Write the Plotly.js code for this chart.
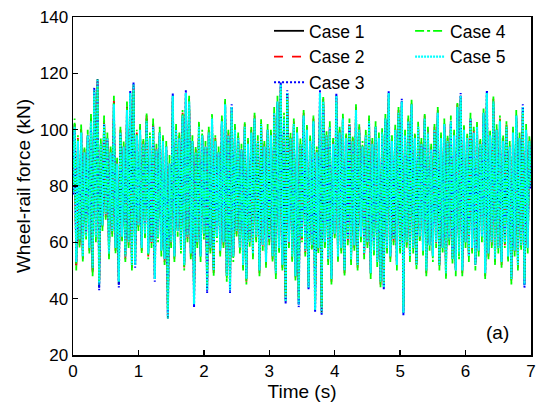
<!DOCTYPE html>
<html>
<head>
<meta charset="utf-8">
<script src="https://cdn.plot.ly/plotly-3.0.1.min.js"></script>
<style>html,body{margin:0;padding:0;background:#fff;}#chart{width:540px;height:405px;}</style>
</head>
<body>
<div id="chart"></div>
<script>
// sampling: t0 = 0 s, dt = 0.025 s, 281 samples (0 ... 7 s)
var tStart = 0;
var tStep = 0.025;
var seriesNames = ["Case 1", "Case 2", "Case 3", "Case 4", "Case 5"];

var case1 = [
78,102,52,96,60,100,55,92,63,98, 58,104,50,114,62,118,44,95,66,103,
70,97,56,92,64,110,58,88,45,99, 62,94,55,108,60,113,52,116,52,98,
66,100,58,95,63,104,56,97,60,102, 47,93,62,99,57,96,54,94,33,88,
60,112,55,100,64,97,58,105,52,113, 62,110,56,96,38,92,60,101,55,98,
63,94,43,99,58,104,50,96,62,92, 57,103,60,109,48,98,43,108,55,100,
64,97,58,93,52,101,47,95,60,99, 56,104,62,96,50,102,59,94,53,100,
61,98,55,106,49,110,58,116,52,104, 39,113,60,97,55,102,48,99,38,95,
62,105,57,100,44,96,59,103,36,92, 58,113,35,110,60,98,54,101,47,95,
63,112,55,99,58,104,50,97,61,102, 54,96,59,107,52,100,62,94,56,98,
60,103,49,95,57,101,53,97,46,99, 44,104,58,113,55,96,61,100,52,106,
58,110,35,98,60,103,55,109,58,97, 52,101,62,95,57,104,50,99,59,93,
55,100,60,106,52,97,58,102,49,96, 61,103,54,98,50,108,56,112,50,100,
60,97,55,104,58,99,52,101,57,95, 62,106,49,113,56,98,60,110,54,100,
58,103,53,96,60,101,55,94,47,99, 57,105,52,97,59,108,45,100,58,96,
80];

var case2 = [
79,103,51,97,59,101,54,93,62,99, 57,105,49,113,61,117,45,96,65,104,
69,98,55,93,63,111,57,89,46,100, 61,95,54,109,59,112,51,115,53,99,
65,101,57,96,62,105,55,98,59,103, 48,94,61,100,56,97,53,95,34,89,
59,111,54,101,63,98,57,106,51,112, 61,111,55,97,39,93,59,102,54,99,
62,95,44,100,57,105,49,97,61,93, 56,104,59,110,47,99,44,107,54,101,
63,98,57,94,51,102,46,96,59,100, 55,105,61,97,49,103,58,95,52,101,
60,99,54,107,48,111,57,115,51,105, 40,112,59,98,54,103,47,100,39,96,
61,106,56,101,45,97,58,104,37,93, 57,112,36,111,59,99,53,102,46,96,
62,111,54,100,57,105,49,98,60,103, 53,97,58,108,51,101,61,95,55,99,
59,104,48,96,56,102,52,98,45,100, 45,105,57,112,54,97,60,101,51,107,
57,109,36,99,59,104,54,110,57,98, 51,102,61,96,56,105,49,100,58,94,
54,101,59,107,51,98,57,103,48,97, 60,104,53,99,49,109,55,111,49,101,
59,98,54,105,57,100,51,102,56,96, 61,107,48,112,55,99,59,111,53,101,
57,104,52,97,59,102,54,95,46,100, 56,106,51,98,58,107,46,101,57,97,
81];

var case3 = [
77,101,53,95,61,99,56,91,64,97, 59,103,51,115,63,117,43,94,67,102,
71,96,57,91,65,109,59,87,44,98, 63,93,56,107,61,114,53,117,51,97,
67,99,59,94,64,103,57,96,61,101, 46,92,63,98,58,95,55,93,34,87,
61,113,56,99,65,96,59,104,53,114, 63,109,57,95,37,91,61,100,56,97,
64,93,42,98,59,103,51,95,63,91, 58,102,61,108,49,97,42,109,56,99,
65,96,59,92,53,100,48,94,61,98, 57,103,63,95,51,101,60,93,54,99,
62,97,56,105,50,109,59,117,53,103, 38,114,61,96,56,101,49,98,37,94,
63,104,58,99,43,95,60,102,35,91, 59,114,34,109,61,97,55,100,48,94,
64,113,56,98,59,103,51,96,62,101, 55,95,60,106,53,99,63,93,57,97,
61,102,50,94,58,100,54,96,47,98, 43,103,59,114,56,95,62,99,53,105,
59,111,34,97,61,102,56,108,59,96, 53,100,63,94,58,103,51,98,60,92,
56,99,61,105,53,96,59,101,50,95, 62,102,55,97,51,107,57,113,51,99,
61,96,56,103,59,98,53,100,58,94, 63,105,50,114,57,97,61,109,55,99,
59,102,54,95,61,100,56,93,48,98, 58,104,53,96,60,109,44,99,59,95,
79];

var case4 = [
80,104,50,98,58,102,53,94,61,100, 56,106,48,112,60,116,46,97,64,105,
68,99,54,94,62,112,56,90,47,101, 60,96,53,110,58,111,50,114,54,100,
64,102,56,97,61,106,54,99,58,104, 49,95,60,101,55,98,52,96,36,91,
58,110,53,102,62,99,56,107,50,111, 60,112,54,98,40,94,58,103,53,100,
61,96,45,101,56,106,48,98,60,94, 55,105,58,111,46,100,45,106,53,102,
62,99,56,95,50,103,45,97,58,101, 54,106,60,98,48,104,57,96,51,102,
59,100,53,108,47,112,56,114,50,106, 41,111,58,99,53,104,46,101,40,97,
60,107,55,102,46,98,57,105,38,94, 56,111,37,112,58,100,52,103,45,97,
61,110,53,101,56,106,48,99,59,104, 52,98,57,109,50,102,60,96,54,100,
58,105,47,97,55,103,51,99,44,101, 46,106,56,111,53,98,59,102,50,108,
56,108,37,100,58,105,53,111,56,99, 50,103,60,97,55,106,48,101,57,95,
53,102,58,108,50,99,56,104,47,98, 59,105,52,100,48,110,54,110,48,102,
58,99,53,106,56,101,50,103,55,97, 60,108,47,111,54,100,58,112,52,102,
56,105,51,98,58,103,53,96,45,101, 55,107,50,99,57,106,47,102,56,98,
82];

var case5 = [
78,101,53,96,61,99,55,92,62,98, 58,103,51,114,62,118,45,95,66,102,
70,97,56,92,64,109,58,88,46,99, 62,94,55,107,60,113,52,116,52,98,
66,100,58,95,63,103,56,97,60,101, 47,93,62,99,57,96,54,94,33,88,
60,112,55,100,64,97,58,105,52,113, 62,110,56,96,38,92,60,101,55,98,
63,94,43,99,58,104,50,96,62,92, 57,103,60,109,48,98,43,108,55,100,
64,97,58,93,52,101,47,95,60,99, 56,104,62,96,50,102,59,94,53,100,
61,98,55,106,49,110,58,116,52,104, 39,113,60,97,55,102,48,99,38,95,
62,105,57,100,44,96,59,103,36,92, 58,113,35,110,60,98,54,101,47,95,
63,112,55,99,58,104,50,97,61,102, 54,96,59,107,52,100,62,94,56,98,
60,103,49,95,57,101,53,97,46,99, 44,104,58,113,55,96,61,100,52,106,
58,110,35,98,60,103,55,109,58,97, 52,101,62,95,57,104,50,99,59,93,
55,100,60,106,52,97,58,102,49,96, 61,103,54,98,50,108,56,112,50,100,
60,97,55,104,58,99,52,101,57,95, 62,106,49,113,56,98,60,110,54,100,
58,103,53,96,60,101,55,94,47,99, 57,105,52,97,59,108,45,100,58,96,
80];

var xTicks = [0, 1, 2, 3, 4, 5, 6, 7];
var yTicks = [20, 40, 60, 80, 100, 120, 140];

var allCases = [case1, case2, case3, case4, case5];
var colors = ["#000000", "#ff0000", "#0000ff", "#00ff00", "#00ffff"];
var dashes = ["solid", "dash", "2px,2px", "dashdot", "2px,1px"];
var widths = [1.8, 1.8, 2, 1.8, 2.2];
var legends = ["legend", "legend", "legend", "legend2", "legend2"];

var traces = allCases.map(function (ys, i) {
  return {
    type: "scatter", mode: "lines",
    name: seriesNames[i],
    x0: tStart, dx: tStep, y: ys,
    line: {color: colors[i], width: widths[i], dash: dashes[i]},
    legend: legends[i]
  };
});

var fontBase = {family: "Liberation Sans, Arial, sans-serif", color: "#000", size: 17};

var layout = {
  width: 540, height: 405,
  margin: {l: 73, r: 9, t: 17, b: 50},
  paper_bgcolor: "#fff", plot_bgcolor: "#fff",
  font: fontBase,
  showlegend: true,
  xaxis: {
    range: [0, 7], tickvals: xTicks, ticktext: xTicks.map(String),
    ticks: "inside", ticklen: 5, tickwidth: 1.5, tickcolor: "#000",
    showline: true, linecolor: "#000", linewidth: 1.5, mirror: true,
    showgrid: false, zeroline: false,
    tickfont: {size: 17},
    title: {text: "Time (s)", font: {size: 19}, standoff: 2}
  },
  yaxis: {
    range: [20, 140], tickvals: yTicks, ticktext: yTicks.map(String),
    ticks: "inside", ticklen: 5, tickwidth: 1.5, tickcolor: "#000",
    showline: true, linecolor: "#000", linewidth: 1.5, mirror: true,
    showgrid: false, zeroline: false,
    tickfont: {size: 17},
    title: {text: "Wheel-rail force (kN)", font: {size: 19}, standoff: 4}
  },
  legend: {
    x: 0.428, y: 1.012, xanchor: "left", yanchor: "top",
    bgcolor: "rgba(0,0,0,0)", borderwidth: 0,
    font: {size: 17.5}, tracegroupgap: 0
  },
  legend2: {
    x: 0.736, y: 1.012, xanchor: "left", yanchor: "top",
    bgcolor: "rgba(0,0,0,0)", borderwidth: 0,
    font: {size: 17.5}, tracegroupgap: 0
  },
  annotations: [{
    xref: "paper", yref: "paper", x: 0.956, y: 0.03,
    xanchor: "right", yanchor: "bottom",
    text: "(a)", showarrow: false, font: {size: 19}
  }]
};

Plotly.newPlot("chart", traces, layout, {displayModeBar: false, staticPlot: true});
</script>
</body>
</html>
